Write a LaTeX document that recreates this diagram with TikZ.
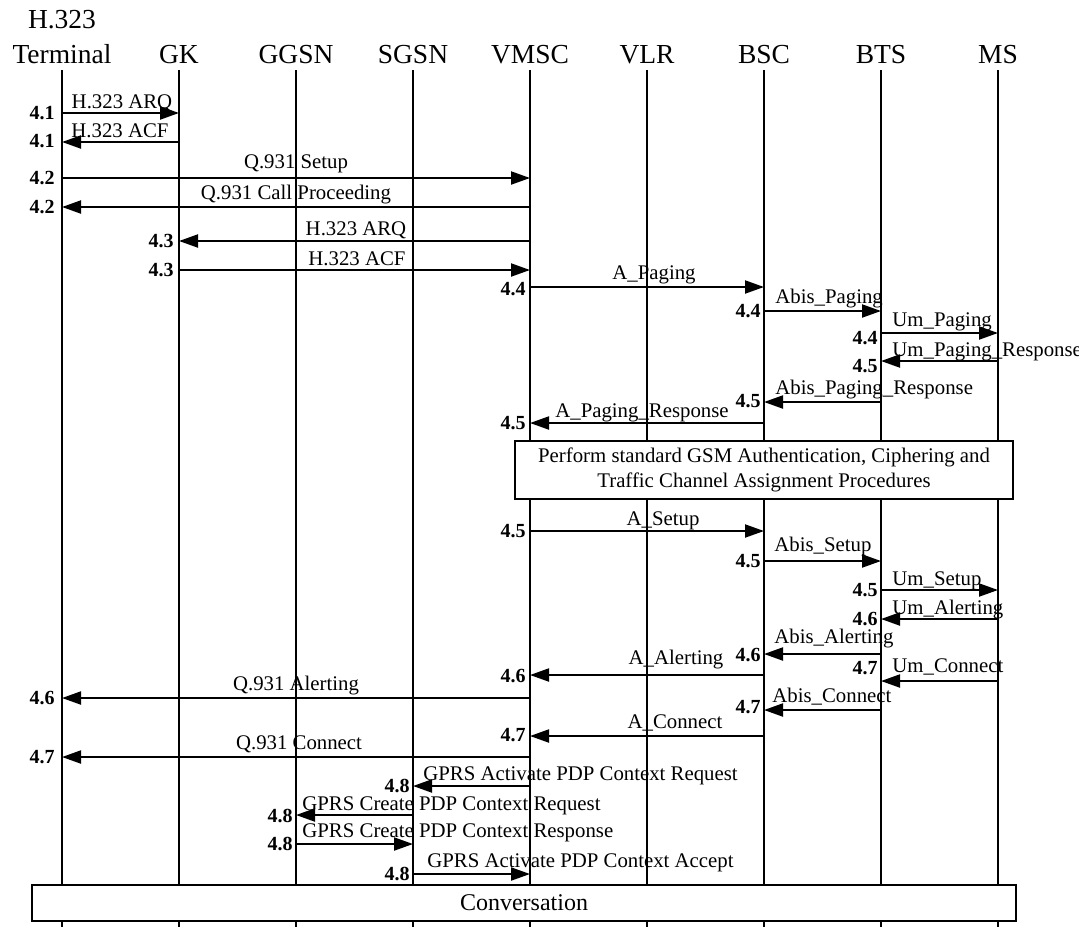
\documentclass[tikz,border=0pt]{standalone}
\usepackage{fontspec}
\setmainfont{Liberation Serif}
\usetikzlibrary{arrows.meta}

\begin{document}
\begin{tikzpicture}[
    x=0.5pt, y=-0.5pt,
    entity/.style={anchor=base, inner sep=0pt, font=\fontsize{13.75}{16}\selectfont},
    lifeline/.style={line width=0.85pt},
    msg/.style={-{Triangle[length=9.5pt, width=6.5pt]}, line width=1pt},
    lbl/.style={anchor=base, inner sep=0pt, font=\fontsize{10.4}{12}\selectfont},
    lblw/.style={lbl, anchor=base west},
    num/.style={anchor=east, inner sep=0pt, font=\bfseries\fontsize{10}{12}\selectfont},
    procbox/.style={draw, fill=white, line width=1pt, inner sep=0pt, align=center,
                    font=\fontsize{10.4}{12.5}\selectfont}
]
    \useasboundingbox (0,0) rectangle (1079,927);
    \coordinate (bottom) at (0,927);

    % entities and lifelines
    \node[entity] (h323) at (62,28) {H.323};
    \node[entity] (term) at (62,63) {Terminal};
    \node[entity] (gk) at (179,63) {GK};
    \node[entity] (ggsn) at (296,63) {GGSN};
    \node[entity] (sgsn) at (413,63) {SGSN};
    \node[entity] (vmsc) at (530,63) {VMSC};
    \node[entity] (vlr) at (647,63) {VLR};
    \node[entity] (bsc) at (764,63) {BSC};
    \node[entity] (bts) at (881,63) {BTS};
    \node[entity] (ms) at (998,63) {MS};
    \foreach \e in {term,gk,ggsn,sgsn,vmsc,vlr,bsc,bts,ms}
        \draw[lifeline] ([yshift=-3.5pt]\e.base) -- (\e |- bottom);

    % 4.1 - 4.3: H.323 admission and Q.931 setup
    \draw[msg] (term |- 0,113) -- (gk |- 0,113);
    \node[lbl] at (122,108) {H.323 ARQ}; \node[num] at (55,113) {4.1};
    \draw[msg] (gk |- 0,142) -- (term |- 0,142);
    \node[lbl] at (120,137) {H.323 ACF}; \node[num] at (55,141) {4.1};
    \draw[msg] (term |- 0,178) -- (vmsc |- 0,178);
    \node[lbl] at (296,168) {Q.931 Setup}; \node[num] at (55,178) {4.2};
    \draw[msg] (vmsc |- 0,207) -- (term |- 0,207);
    \node[lbl] at (296,199) {Q.931 Call Proceeding}; \node[num] at (55,207) {4.2};
    \draw[msg] (vmsc |- 0,241) -- (gk |- 0,241);
    \node[lbl] at (356,235) {H.323 ARQ}; \node[num] at (174,241) {4.3};
    \draw[msg] (gk |- 0,270) -- (vmsc |- 0,270);
    \node[lbl] at (357,265) {H.323 ACF}; \node[num] at (174,270) {4.3};

    % 4.4 - 4.5: paging
    \draw[msg] (vmsc |- 0,287) -- (bsc |- 0,287);
    \node[lbl] at (654,279) {A\_Paging}; \node[num] at (526,289) {4.4};
    \draw[msg] (bsc |- 0,311) -- (bts |- 0,311);
    \node[lblw] at (775,303) {Abis\_Paging}; \node[num] at (761,311) {4.4};
    \draw[msg] (bts |- 0,333) -- (ms |- 0,333);
    \node[lblw] at (892,326) {Um\_Paging}; \node[num] at (878,338) {4.4};
    \draw[msg] (ms |- 0,361) -- (bts |- 0,361);
    \node[lblw] at (892,356) {Um\_Paging\_Response}; \node[num] at (878,366) {4.5};
    \draw[msg] (bts |- 0,402) -- (bsc |- 0,402);
    \node[lblw] at (775,394) {Abis\_Paging\_Response}; \node[num] at (761,401) {4.5};
    \draw[msg] (bsc |- 0,423) -- (vmsc |- 0,423);
    \node[lbl] at (642,417) {A\_Paging\_Response}; \node[num] at (526,423) {4.5};

    \node[procbox, minimum width=249pt, minimum height=29pt] (gsmproc) at (764,470)
        {Perform standard GSM Authentication, Ciphering and\\Traffic Channel Assignment Procedures};

    % 4.5 - 4.7: setup, alerting, connect
    \draw[msg] (vmsc |- 0,531) -- (bsc |- 0,531);
    \node[lbl] at (663,525) {A\_Setup}; \node[num] at (526,531) {4.5};
    \draw[msg] (bsc |- 0,561) -- (bts |- 0,561);
    \node[lblw] at (774,551) {Abis\_Setup}; \node[num] at (761,561) {4.5};
    \draw[msg] (bts |- 0,590) -- (ms |- 0,590);
    \node[lblw] at (892,585) {Um\_Setup}; \node[num] at (878,590) {4.5};
    \draw[msg] (ms |- 0,619) -- (bts |- 0,619);
    \node[lblw] at (892,614) {Um\_Alerting}; \node[num] at (878,619) {4.6};
    \draw[msg] (bts |- 0,654) -- (bsc |- 0,654);
    \node[lblw] at (774,643) {Abis\_Alerting}; \node[num] at (761,655) {4.6};
    \draw[msg] (bsc |- 0,675) -- (vmsc |- 0,675);
    \node[lbl] at (676,664) {A\_Alerting}; \node[num] at (526,676) {4.6};
    \draw[msg] (vmsc |- 0,698) -- (term |- 0,698);
    \node[lbl] at (296,690) {Q.931 Alerting}; \node[num] at (55,698) {4.6};
    \draw[msg] (ms |- 0,681) -- (bts |- 0,681);
    \node[lblw] at (892,672) {Um\_Connect}; \node[num] at (878,668) {4.7};
    \draw[msg] (bts |- 0,710) -- (bsc |- 0,710);
    \node[lblw] at (772,702) {Abis\_Connect}; \node[num] at (761,707) {4.7};
    \draw[msg] (bsc |- 0,736) -- (vmsc |- 0,736);
    \node[lbl] at (675,728) {A\_Connect}; \node[num] at (526,735) {4.7};
    \draw[msg] (vmsc |- 0,757) -- (term |- 0,757);
    \node[lbl] at (299,749) {Q.931 Connect}; \node[num] at (55,757) {4.7};

    % 4.8: PDP context
    \draw[msg] (vmsc |- 0,786) -- (sgsn |- 0,786);
    \node[lblw] at (423,780) {GPRS Activate PDP Context Request}; \node[num] at (410,786) {4.8};
    \draw[msg] (sgsn |- 0,815) -- (ggsn |- 0,815);
    \node[lblw] at (302,810) {GPRS Create PDP Context Request}; \node[num] at (293,816) {4.8};
    \draw[msg] (ggsn |- 0,844) -- (sgsn |- 0,844);
    \node[lblw] at (302,837) {GPRS Create PDP Context Response}; \node[num] at (293,844) {4.8};
    \draw[msg] (sgsn |- 0,874) -- (vmsc |- 0,874);
    \node[lblw] at (427,867) {GPRS Activate PDP Context Accept}; \node[num] at (410,874) {4.8};

    \node[procbox, minimum width=492pt, minimum height=18pt, font=\fontsize{12}{14}\selectfont]
        (conv) at (524,903) {Conversation};
\end{tikzpicture}
\end{document}
